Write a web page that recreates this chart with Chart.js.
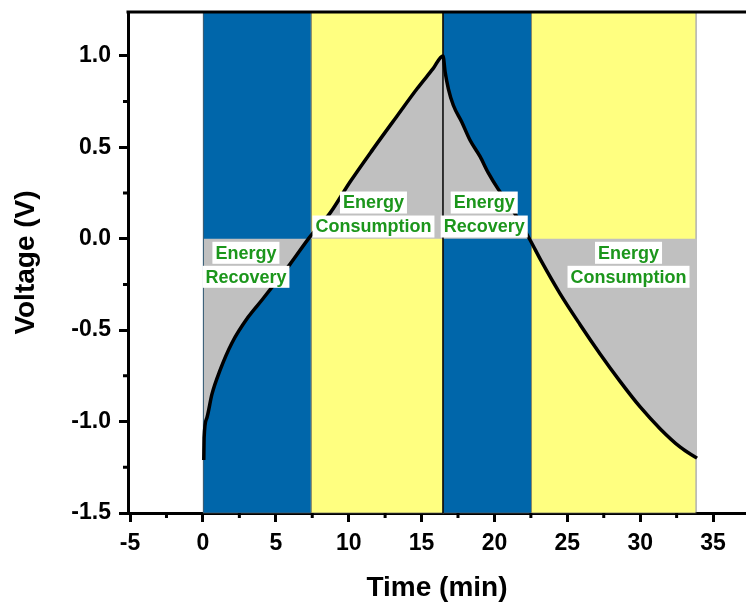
<!DOCTYPE html>
<html>
<head>
<meta charset="utf-8">
<script src="https://cdn.jsdelivr.net/npm/chart.js@4.4.0/dist/chart.umd.min.js"></script>
<style>
  body { margin: 0; background: #fff; }
  canvas { display: block; }
</style>
</head>
<body>
<canvas id="c" width="746" height="605"></canvas>
<script>
    // voltage trace (min, V)
    var timeMin = [0.06, 0.08, 0.27, 0.62, 1.17, 1.99, 3.09, 4.05, 4.94, 5.97, 7.34,
                   8.72, 10.09, 11.67, 13.31, 14.69, 15.79, 16.47,
                   16.62, 16.84, 17.18, 17.75, 18.32, 19.01, 19.58, 20.27, 21.07, 22.4,
                   23.2, 24.5, 25.88, 27.25, 28.62, 30.0, 31.38, 32.75, 33.9];
    var voltage = [-1.21, -1.09, -0.98, -0.85, -0.72, -0.57, -0.43, -0.335, -0.245, -0.14, 0.01,
                   0.14, 0.31, 0.49, 0.67, 0.82, 0.93, 1.0,
                   0.91, 0.82, 0.73, 0.64, 0.54, 0.45, 0.36, 0.27, 0.18, 0.0,
                   -0.12, -0.30, -0.47, -0.63, -0.78, -0.92, -1.04, -1.14, -1.20];

    // shaded phases
    var bandStart = [0, 7.41, 16.47, 22.51];
    var bandEnd = [7.41, 16.47, 22.51, 33.8];
    var bandColor = ['#0066aa', '#ffff80', '#0066aa', '#ffff80'];
    var switchTime = 16.47;

    // text boxes: x and y of the first line
    var labelLines = [['Energy', 'Recovery'], ['Energy', 'Consumption'], ['Energy', 'Recovery'], ['Energy', 'Consumption']];
    var labelX = [2.95, 11.7, 19.3, 29.2];
    var labelY = [-0.077, 0.198, 0.198, -0.077];

    var xMinor = [-2.5, 2.5, 7.5, 12.5, 17.5, 22.5, 27.5, 32.5];
    var yMinor = [-1.25, -0.75, -0.25, 0.25, 0.75];

    var FONT = "'Liberation Sans', Arial, sans-serif";

    var points = timeMin.map(function (t, i) { return { x: t, y: voltage[i] }; });

    var phasePlugin = {
      id: 'phases',
      beforeDatasetsDraw: function (chart) {
        var ctx = chart.ctx, a = chart.chartArea, xs = chart.scales.x;
        ctx.save();
        for (var i = 0; i < bandStart.length; i++) {
          var x0 = xs.getPixelForValue(bandStart[i]);
          var x1 = xs.getPixelForValue(bandEnd[i]);
          ctx.fillStyle = bandColor[i];
          ctx.fillRect(x0, a.top, x1 - x0, a.bottom - a.top);
          ctx.strokeStyle = 'rgba(90,90,90,0.7)';
          ctx.lineWidth = 1;
          ctx.strokeRect(x0 + 0.5, a.top, x1 - x0, a.bottom - a.top);
        }
        ctx.restore();
      },
      afterDatasetsDraw: function (chart) {
        var ctx = chart.ctx, a = chart.chartArea, xs = chart.scales.x, ys = chart.scales.y;
        ctx.save();
        // switch line at the peak
        var xp = xs.getPixelForValue(switchTime);
        ctx.strokeStyle = '#000';
        ctx.lineWidth = 1.5;
        ctx.beginPath();
        ctx.moveTo(xp, a.top);
        ctx.lineTo(xp, a.bottom);
        ctx.stroke();

        ctx.font = 'bold 18px ' + FONT;
        ctx.textAlign = 'center';
        ctx.textBaseline = 'middle';
        for (var i = 0; i < labelLines.length; i++) {
          var cx = xs.getPixelForValue(labelX[i]);
          var cy = ys.getPixelForValue(labelY[i]);
          for (var j = 0; j < labelLines[i].length; j++) {
            var txt = labelLines[i][j];
            var w = ctx.measureText(txt).width;
            var ly = cy + j * 24;
            ctx.fillStyle = '#fff';
            ctx.fillRect(cx - w / 2 - 3, ly - 11, w + 6, 22);
            ctx.fillStyle = '#1c961c';
            ctx.fillText(txt, cx, ly + 1);
          }
        }
        ctx.restore();
      },
      afterDraw: function (chart) {
        var ctx = chart.ctx, a = chart.chartArea, xs = chart.scales.x, ys = chart.scales.y;
        ctx.save();
        ctx.strokeStyle = '#000';
        ctx.lineWidth = 3;
        ctx.beginPath();
        ctx.moveTo(a.left - 1.5, a.top);
        ctx.lineTo(a.right, a.top);
        ctx.stroke();
        // minor ticks
        ctx.beginPath();
        xMinor.forEach(function (v) {
          if (v < xs.min || v > xs.max) return;
          var px = xs.getPixelForValue(v);
          ctx.moveTo(px, a.bottom);
          ctx.lineTo(px, a.bottom + 5);
        });
        yMinor.forEach(function (v) {
          if (v < ys.min || v > ys.max) return;
          var py = ys.getPixelForValue(v);
          ctx.moveTo(a.left, py);
          ctx.lineTo(a.left - 5, py);
        });
        ctx.stroke();
        ctx.restore();
      }
    };

    new Chart(document.getElementById('c'), {
      type: 'line',
      data: {
        datasets: [{
          data: points,
          borderColor: '#000',
          borderWidth: 3.5,
          backgroundColor: '#c0c0c0',
          fill: { value: 0 },
          pointRadius: 0,
          cubicInterpolationMode: 'monotone'
        }]
      },
      options: {
        responsive: false,
        animation: false,
        layout: { padding: { top: 12, right: 0, left: 0, bottom: 0 } },
        plugins: { legend: { display: false }, tooltip: { enabled: false } },
        scales: {
          x: {
            type: 'linear',
            min: -5.14,
            max: 37.26,
            border: { color: '#000', width: 3 },
            grid: { drawOnChartArea: false, drawTicks: true, tickLength: 9, color: '#000', lineWidth: 3 },
            ticks: {
              stepSize: 5, includeBounds: false, color: '#000', padding: 8,
              font: { family: FONT, size: 23, weight: 'bold' }
            },
            title: {
              display: true, text: 'Time (min)', color: '#000',
              font: { family: FONT, size: 28, weight: 'bold' },
              padding: { top: 0, bottom: 0 }
            },
            afterFit: function (s) { s.height = 92; s.paddingLeft = 0; s.paddingRight = 0; }
          },
          y: {
            min: -1.5,
            max: 1.24,
            border: { color: '#000', width: 3 },
            grid: { drawOnChartArea: false, drawTicks: true, tickLength: 9, color: '#000', lineWidth: 3 },
            ticks: {
              stepSize: 0.5, includeBounds: false, color: '#000', padding: 8,
              font: { family: FONT, size: 23, weight: 'bold' },
              callback: function (v) { return v.toFixed(1); }
            },
            title: {
              display: true, text: 'Voltage (V)', color: '#000',
              font: { family: FONT, size: 28, weight: 'bold' },
              padding: { top: 9, bottom: 0 }
            },
            afterFit: function (s) { s.width = 128; s.paddingTop = 0; s.paddingBottom = 0; }
          }
        }
      },
      plugins: [phasePlugin]
    });
</script>
</body>
</html>
